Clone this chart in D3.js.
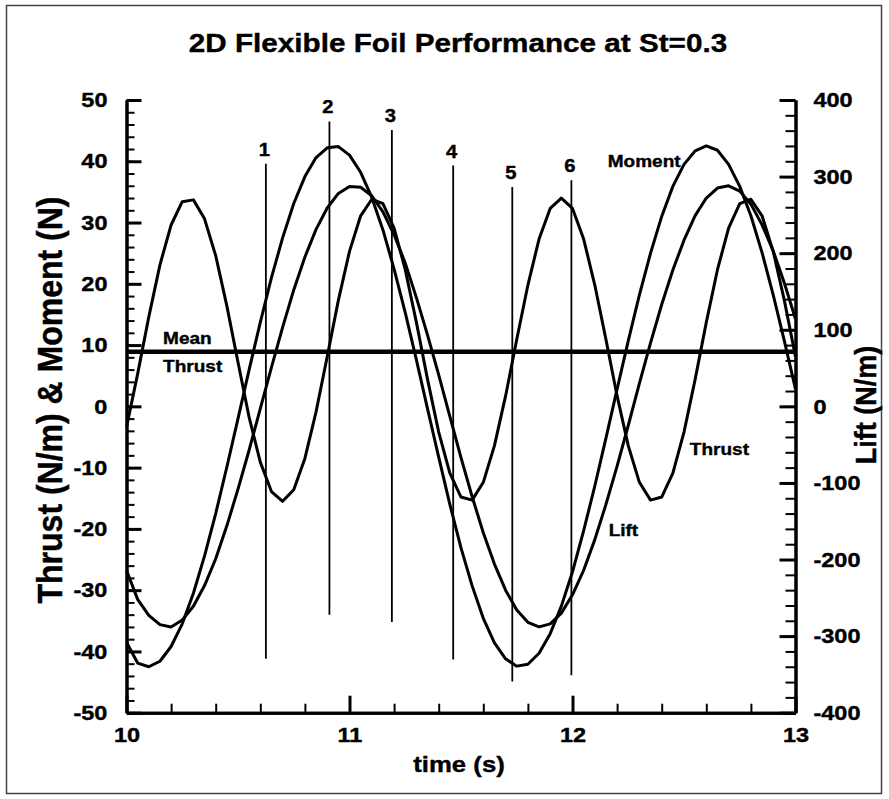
<!DOCTYPE html>
<html><head><meta charset="utf-8">
<script src="https://cdn.jsdelivr.net/npm/d3@7"></script>
<style>body{margin:0;background:#fff} svg{display:block}</style>
</head><body>
<svg id="c" width="889" height="799"></svg>
<script>
// ---------- data ----------
const time = [10,10.05,10.1,10.15,10.2,10.25,10.3,10.35,10.4,10.45,10.5,10.55,10.6,10.65,10.7,10.75,10.8,10.85,10.9,10.95,
  11,11.05,11.1,11.15,11.2,11.25,11.3,11.35,11.4,11.45,11.5,11.55,11.6,11.65,11.7,11.75,11.8,11.85,11.9,11.95,
  12,12.05,12.1,12.15,12.2,12.25,12.3,12.35,12.4,12.45,12.5,12.55,12.6,12.65,12.7,12.75,12.8,12.85,12.9,12.95,13];
const thrust = [-3.4,5.3,14.6,23.1,29.6,33.4,33.7,30.6,24.6,16.4,7.2,-1.8,-9.1,-13.9,-15.5,-13.6,-8.5,-0.9,8.1,17.3,
  25.3,31.1,33.8,33.1,29.1,22.3,13.7,4.4,-4.2,-10.9,-14.8,-15.3,-12.4,-6.4,1.7,10.9,19.8,27.3,32.3,34.0,
  32.3,27.3,19.8,10.9,1.7,-6.4,-12.4,-15.3,-14.8,-10.9,-4.2,4.4,13.7,22.3,29.1,33.1,33.8,31.1,25.3,17.3,8.1];
const moment = [-38.5,-41.9,-42.5,-41.6,-39.2,-35.5,-30.5,-24.4,-17.5,-9.9,-2.0,6.0,13.7,21.0,27.5,33.1,37.5,40.6,42.2,42.4,
  41.0,38.2,34.1,28.8,22.4,15.3,7.6,-0.4,-8.3,-16.0,-23.1,-29.3,-34.6,-38.6,-41.2,-42.4,-42.1,-40.3,-37.1,-32.6,
  -27.0,-20.3,-13.0,-5.2,2.8,10.7,18.2,25.0,31.0,35.9,39.5,41.7,42.5,41.8,39.5,35.9,31.1,25.1,18.2,10.7,2.8];
const lift = [-214,-252,-273,-285,-288,-279,-261,-234,-199,-156,-108,-57,-3,51,103,152,195,231,259,278,
  287,286,275,254,224,187,142,93,41,-13,-67,-118,-165,-206,-240,-266,-282,-288,-284,-270,
  -246,-214,-174,-128,-78,-25,30,83,133,178,217,249,272,285,288,281,264,237,203,161,114];
const meanThrust = 8.9;

const markerLabels = ["1","2","3","4","5","6"];
const markerTimes = [10.625,10.91,11.19,11.465,11.73,11.995];
const markerTop = [39.6,46.5,45.1,39.3,35.8,36.9];
const markerBottom = [-41.2,-34.0,-35.2,-41.3,-44.9,-43.9];

const leftTicks = [-50,-40,-30,-20,-10,0,10,20,30,40,50];
const rightTicks = [-400,-300,-200,-100,0,100,200,300,400];
const timeTicks = [10,11,12,13];

const titleText = "2D Flexible Foil Performance at St=0.3";
const xTitle = "time (s)";
const yLeftTitle = "Thrust (N/m) & Moment (N)";
const yRightTitle = "Lift (N/m)";

// annotation anchors in data coordinates (time, left-axis value)
const notes = [
  {text:"Mean", t:10.164, v:10.2},
  {text:"Thrust", t:10.164, v:5.6},
  {text:"Moment", t:12.158, v:39.1},
  {text:"Thrust", t:12.526, v:-8.0},
  {text:"Lift", t:12.162, v:-21.1}
];

// ---------- drawing ----------
const W = 889, H = 799;
const SX = 1.12;
const FONT = '"Liberation Sans", Arial, Helvetica, sans-serif';
const svg = d3.select('#c');
svg.append('rect').attr('width', W).attr('height', H).attr('fill', '#fff');

// outer frame
svg.append('rect').attr('x', 6.5).attr('y', 5.5).attr('width', 875).attr('height', 788)
  .attr('fill', 'none').attr('stroke', '#444').attr('stroke-width', 1.5);

const x = d3.scaleLinear().domain([10, 13]).range([126.5, 795.5]);
const yL = d3.scaleLinear().domain([-50, 50]).range([712.7, 100]);
const yR = d3.scaleLinear().domain([-400, 400]).range([712.7, 100]);

function label(px, py, str, size, anchor = 'start', rot = 0) {
  return svg.append('text')
    .attr('transform', `translate(${px},${py}) scale(${SX},1) rotate(${rot})`)
    .attr('text-anchor', anchor)
    .attr('font-family', FONT).attr('font-weight', 'bold')
    .attr('font-size', size).attr('fill', '#000')
    .attr('stroke', '#000').attr('stroke-width', 0.4)
    .text(str);
}

// marker lines
markerTimes.forEach((t, i) => {
  svg.append('line')
    .attr('x1', x(t)).attr('x2', x(t))
    .attr('y1', yL(markerTop[i])).attr('y2', yL(markerBottom[i]))
    .attr('stroke', '#000').attr('stroke-width', 1.8);
  label(x(t) - 1.5, yL(markerTop[i]) - 8, markerLabels[i], 18, 'middle');
});

// mean thrust line
svg.append('line')
  .attr('x1', x(10)).attr('x2', x(13))
  .attr('y1', yL(meanThrust)).attr('y2', yL(meanThrust))
  .attr('stroke', '#000').attr('stroke-width', 4.5);

// curves
const idx = d3.range(time.length);
const lineL = arr => d3.line().x(i => x(time[i])).y(i => yL(arr[i]))(idx);
const lineR = arr => d3.line().x(i => x(time[i])).y(i => yR(arr[i]))(idx);
[lineL(thrust), lineL(moment), lineR(lift)].forEach(d => {
  svg.append('path').attr('d', d).attr('fill', 'none')
    .attr('stroke', '#000').attr('stroke-width', 3)
    .attr('stroke-linejoin', 'round');
});

// annotations
notes.forEach(n => label(x(n.t), yL(n.v), n.text, 17, 'start'));

// axes
function styleAxis(g, width, tickW) {
  g.select('.domain').attr('stroke', '#000').attr('stroke-width', width);
  g.selectAll('.tick line').attr('stroke', '#000').attr('stroke-width', tickW);
  g.selectAll('.tick text')
    .attr('font-family', FONT).attr('font-weight', 'bold')
    .attr('font-size', 21).attr('fill', '#000')
    .attr('stroke', '#000').attr('stroke-width', 0.4)
    .attr('transform', `scale(${SX},1)`);
}
const fmt = d => String(d);

// left
const gLmin = svg.append('g').attr('transform', 'translate(126.5,0)')
  .call(d3.axisLeft(yL).ticks(50).tickSize(-8).tickSizeOuter(0).tickFormat(''));
styleAxis(gLmin, 3, 2);
const gL = svg.append('g').attr('transform', 'translate(126.5,0)')
  .call(d3.axisLeft(yL).tickValues(leftTicks).tickSize(-15).tickSizeOuter(0).tickPadding(17).tickFormat(fmt));
styleAxis(gL, 3, 3);

// right
const gRmin = svg.append('g').attr('transform', 'translate(795.5,0)')
  .call(d3.axisRight(yR).ticks(40).tickSize(-10).tickSizeOuter(0).tickFormat(''));
styleAxis(gRmin, 3, 2);
const gR = svg.append('g').attr('transform', 'translate(795.5,0)')
  .call(d3.axisRight(yR).tickValues(rightTicks).tickSize(-16).tickSizeOuter(0).tickPadding(16).tickFormat(fmt));
styleAxis(gR, 3, 3);

// bottom
const gBmin = svg.append('g').attr('transform', 'translate(0,712.7)')
  .call(d3.axisBottom(x).ticks(15).tickSize(-9).tickSizeOuter(0).tickFormat(''));
styleAxis(gBmin, 3, 2);
const gB = svg.append('g').attr('transform', 'translate(0,712.7)')
  .call(d3.axisBottom(x).tickValues(timeTicks).tickSize(-17).tickSizeOuter(0).tickPadding(14).tickFormat(fmt));
styleAxis(gB, 3, 3);

// titles
label(458, 52, titleText, 26.5, 'middle');
label(459, 772, xTitle, 23, 'middle');
label(62, 400, yLeftTitle, 32, 'middle', -90);
label(876, 405, yRightTitle, 27, 'middle', -90);
</script>
</body></html>
